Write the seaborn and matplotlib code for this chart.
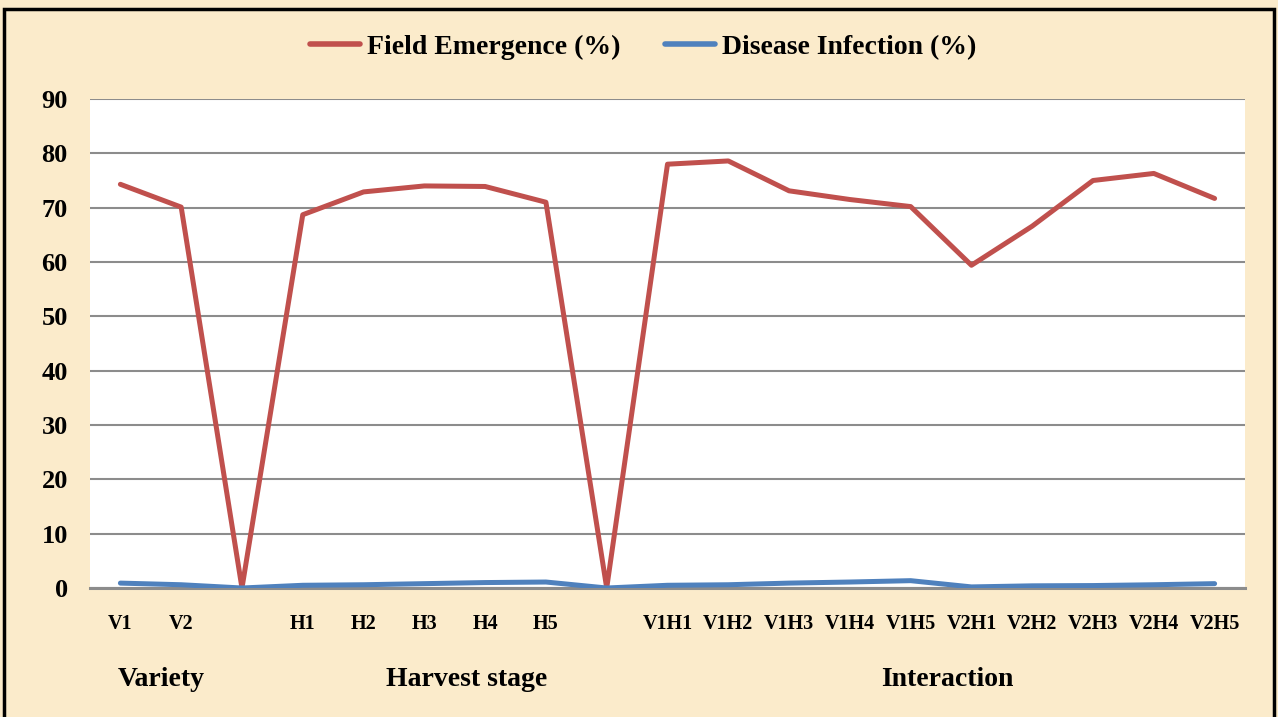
import matplotlib
matplotlib.use("Agg")
import matplotlib.pyplot as plt
import numpy as np
import pandas as pd
import seaborn as sns
from matplotlib.patches import Rectangle
from matplotlib.transforms import blended_transform_factory

# categories along the x axis (blank slots separate the groups)
tick_labels = ["V1", "V2", "",
               "H1", "H2", "H3", "H4", "H5", "",
               "V1H1", "V1H2", "V1H3", "V1H4", "V1H5",
               "V2H1", "V2H2", "V2H3", "V2H4", "V2H5"]

field_emergence = [74.3, 70.1, 0,
                   68.7, 72.9, 74.0, 73.9, 71.0, 0,
                   78.0, 78.6, 73.1, 71.5, 70.2,
                   59.4, 66.6, 75.0, 76.3, 71.7]

disease_infection = [0.9, 0.6, 0,
                     0.5, 0.6, 0.8, 1.0, 1.1, 0,
                     0.5, 0.6, 0.9, 1.1, 1.35,
                     0.2, 0.4, 0.45, 0.6, 0.8]

series_names = ["Field Emergence (%)", "Disease Infection (%)"]
series_colors = ["#C0504D", "#4F81BD"]

group_names = ["Variety", "Harvest stage", "Interaction"]
group_centres = [0.67, 5.7, 13.6]

pos = np.arange(len(tick_labels))
df = pd.DataFrame({
    "pos": np.concatenate([pos, pos]),
    "value": field_emergence + disease_infection,
    "series": [series_names[0]] * len(pos) + [series_names[1]] * len(pos),
})

sns.set_theme(style="white")
plt.rcParams["font.family"] = ["Liberation Serif", "DejaVu Serif"]
plt.rcParams["font.weight"] = "bold"
plt.rcParams["text.color"] = "black"
plt.rcParams["xtick.color"] = "black"
plt.rcParams["ytick.color"] = "black"

bg = "#FBEBCB"
fig = plt.figure(figsize=(12.78, 7.17), dpi=100, facecolor=bg)
ax = fig.add_axes([90 / 1278, 1 - 588 / 717, (1245 - 90) / 1278, (588 - 99) / 717])
ax.set_facecolor("white")

sns.lineplot(data=df, x="pos", y="value", hue="series", palette=series_colors,
             linewidth=3.6, ax=ax, legend=True, zorder=3)

ax.set_xlim(-0.5, len(tick_labels) - 0.5)
ax.set_ylim(0, 90)
ax.set_yticks(np.arange(0, 91, 10))
ax.set_xticks(pos)
ax.set_xticklabels(tick_labels, fontsize=14.5, fontweight="bold", color="black")
ax.tick_params(axis="x", length=0, pad=19)
ax.tick_params(axis="y", length=0, pad=16, labelsize=19)
for lab in ax.get_yticklabels():
    lab.set_fontweight("bold")
    lab.set_color("black")
ax.set_xlabel("")
ax.set_ylabel("")

ax.grid(axis="y", color="#8C8C8C", linewidth=1.5, zorder=0)
for side in ["left", "right", "top"]:
    ax.spines[side].set_visible(False)
ax.spines["bottom"].set_color("#8C8C8C")
ax.spines["bottom"].set_linewidth(2.2)

handles, labels = ax.get_legend_handles_labels()
ax.legend(handles, labels, loc="center", bbox_to_anchor=(0.503, 1 - 47 / 717),
          bbox_transform=fig.transFigure, ncol=2, frameon=False,
          prop={"family": "Liberation Serif", "weight": "bold", "size": 20},
          handlelength=1.8, handletextpad=0.25, columnspacing=1.6, labelcolor="black")
for line in ax.get_legend().get_lines():
    line.set_linewidth(4)

trans = blended_transform_factory(ax.transData, fig.transFigure)
for name, xc in zip(group_names, group_centres):
    ax.text(xc, 1 - 679 / 717, name, transform=trans, ha="center", va="center",
            fontsize=20, fontweight="bold", color="black")

fig.patches.append(Rectangle((4 / 1278, -0.01), 1270 / 1278, 1 - 9 / 717 + 0.01,
                             transform=fig.transFigure, fill=False,
                             edgecolor="black", linewidth=2.5))

fig.savefig("out.png", dpi=100, facecolor=bg)
